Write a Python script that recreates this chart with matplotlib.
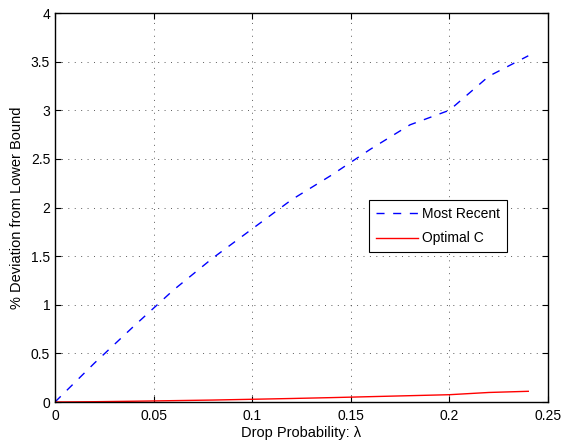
import matplotlib
matplotlib.use("Agg")
import matplotlib.pyplot as plt

plt.rcParams['font.family'] = ['Liberation Sans', 'DejaVu Sans']

x = [0, 0.02, 0.04, 0.06, 0.08, 0.10, 0.12, 0.14, 0.16, 0.18, 0.20, 0.22, 0.24]
most_recent = [0, 0.40, 0.78, 1.15, 1.48, 1.78, 2.08, 2.33, 2.60, 2.85, 3.00, 3.35, 3.56]
optimal_c = [0, 0.003, 0.008, 0.014, 0.020, 0.028, 0.036, 0.045, 0.055, 0.065, 0.075, 0.098, 0.110]

xticks = [0, 0.05, 0.1, 0.15, 0.2, 0.25]
xticklabels = ['0', '0.05', '0.1', '0.15', '0.2', '0.25']
yticks = [0, 0.5, 1, 1.5, 2, 2.5, 3, 3.5, 4]
yticklabels = ['0', '0.5', '1', '1.5', '2', '2.5', '3', '3.5', '4']

fig = plt.figure(figsize=(5.63, 4.4), dpi=100)
ax = fig.add_axes([55/563, 1 - 402/440, 493/563, 389/440])

ax.plot(x, most_recent, color='blue', linestyle=(0, (5.8, 6.2)), lw=1.0, label='Most Recent')
ax.plot(x, optimal_c, color='red', linestyle='-', lw=1.0, label='Optimal C')

ax.set_xlim(0, 0.25)
ax.set_ylim(0, 4)
ax.set_xticks(xticks)
ax.set_xticklabels(xticklabels)
ax.set_yticks(yticks)
ax.set_yticklabels(yticklabels)
ax.tick_params(direction='in', top=True, right=True, labelsize=10, length=4, width=0.8)
ax.tick_params(axis='x', pad=5)
ax.grid(True, color='#333333', linestyle=(0, (1, 5.6)), lw=0.7, alpha=0.8)
for s in ax.spines.values():
    s.set_linewidth(1.0)

ax.set_xlabel('Drop Probability: λ', fontsize=10.5, labelpad=2)
ax.set_ylabel('% Deviation from Lower Bound', fontsize=10.5, labelpad=5)

leg = ax.legend(loc='upper left', bbox_to_anchor=((369-55)/493, (402-200)/389),
                borderaxespad=0,
                fontsize=10, fancybox=False, edgecolor='black', framealpha=1,
                handlelength=3.0, handletextpad=0.35, borderpad=0.5, labelspacing=0.75)
leg.get_frame().set_linewidth(0.8)

fig.savefig('out.png', dpi=100)
